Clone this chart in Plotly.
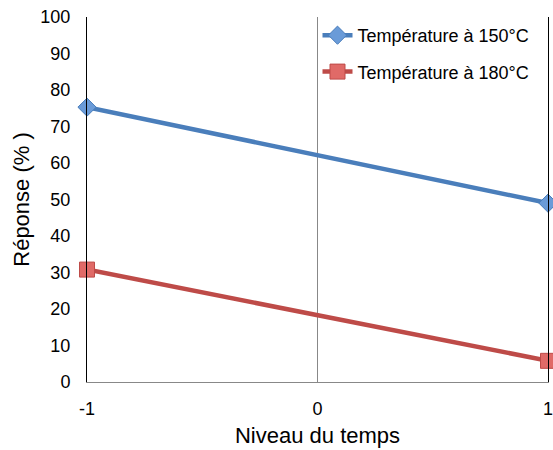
import plotly.graph_objects as go

# niveaux du temps et réponses
niveaux = [-1, 0, 1]
reponse_150 = [75.3, 62.2, 49.0]
reponse_180 = [30.8, 18.2, 5.8]
y_ticks = list(range(0, 101, 10))

bleu = "#4A7EBB"
rouge = "#BE4B48"

fig = go.Figure()
fig.add_trace(go.Scatter(
    x=[niveaux[0], niveaux[2]], y=[reponse_150[0], reponse_150[2]],
    mode="lines+markers", name="Température à 150°C", legendgroup="a",
    line=dict(color=bleu, width=4.5),
    marker=dict(symbol="diamond", size=14, color="#6A9BD8", line=dict(color=bleu, width=1)),
    cliponaxis=False,
))
fig.add_trace(go.Scatter(
    x=[niveaux[0], niveaux[2]], y=[reponse_180[0], reponse_180[2]],
    mode="lines+markers", name="Température à 180°C", legendgroup="b",
    line=dict(color=rouge, width=4.5),
    marker=dict(symbol="square", size=15, color="#E06A67", line=dict(color=rouge, width=1)),
    cliponaxis=False,
))

fig.update_layout(
    width=553, height=450,
    margin=dict(l=87, r=5, t=17, b=68, autoexpand=False),
    paper_bgcolor="white", plot_bgcolor="white",
    font=dict(family="Liberation Sans, Arial", size=18, color="black"),
    showlegend=True,
    legend=dict(x=0.5, y=1.0, xanchor="left", yanchor="top",
                bgcolor="rgba(0,0,0,0)", tracegroupgap=10,
                font=dict(size=18)),
)
fig.update_xaxes(
    range=[-1, 1], tickvals=niveaux, ticktext=["-1", "0", "1"],
    showgrid=False, zeroline=True, zerolinecolor="#888888", zerolinewidth=1,
    showline=True, linecolor="#888888", linewidth=1, mirror=False,
    ticks="", ticklabelstandoff=10, automargin=False, ticklabeloverflow="allow",
    title=dict(text="Niveau du temps", font=dict(size=22), standoff=10),
)
fig.update_yaxes(
    range=[0, 100], tickvals=y_ticks,
    showgrid=False, zeroline=False,
    showline=True, linecolor="black", linewidth=1, mirror=True,
    ticks="", ticklabelstandoff=12, automargin=False,
    title=dict(text="Réponse (% )", font=dict(size=22), standoff=4),
)

# la page html a une marge de 8px par défaut
fig.write_html("out.html", config={"displayModeBar": False},
               post_script="document.body.style.margin='0';")
